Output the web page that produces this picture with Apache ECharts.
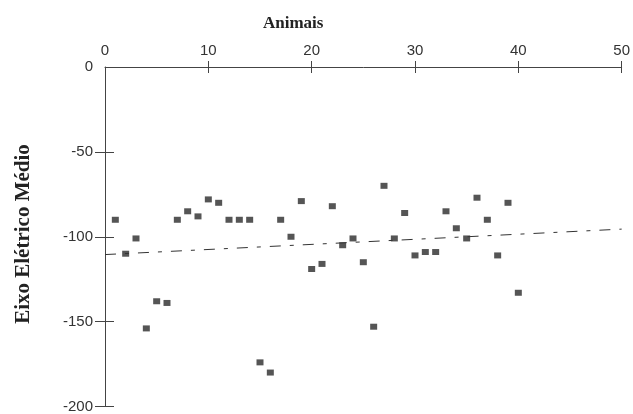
<!DOCTYPE html>
<html>
<head>
<meta charset="utf-8">
<script src="https://cdn.jsdelivr.net/npm/echarts@6/dist/echarts.min.js"></script>
<style>html,body{margin:0;padding:0;background:#fff;}#c{width:633px;height:414px;}</style>
</head>
<body>
<div id="c"></div>
<script>
const animals = [1,2,3,4,5,6,7,8,9,10,11,12,13,14,15,16,17,18,19,20,21,22,23,24,25,26,27,28,29,30,31,32,33,34,35,36,37,38,39,40];
const eixo = [-90,-110,-101,-154,-138,-139,-90,-85,-88,-78,-80,-90,-90,-90,-174,-180,-90,-100,-79,-119,-116,-82,-105,-101,-115,-153,-70,-101,-86,-111,-109,-109,-85,-95,-101,-77,-90,-111,-80,-133];
const trendX = [0, 50];
const trendY = [-110.5, -95.5];
const xTicks = [10, 20, 30, 40, 50];
const yTicks = [-50, -100, -150, -200];

const chart = echarts.init(document.getElementById('c'), null, {renderer: 'canvas'});
const labelFont = {fontFamily: 'Liberation Sans', fontSize: 15, color: '#333'};
const axisColor = '#444';

const xBase = {type: 'value', position: 'top', min: 0, max: 50, interval: 10, splitLine: {show: false}};
const yBase = {type: 'value', position: 'left', min: -200, max: 0, interval: 50, splitLine: {show: false}};

chart.setOption({
  animation: false,
  backgroundColor: '#fff',
  title: {
    text: 'Animais', left: 258, top: 10,
    textStyle: {fontFamily: 'Liberation Serif', fontWeight: 'bold', fontSize: 17, color: '#222'}
  },
  graphic: [{
    type: 'text', x: 24, y: 234, rotation: Math.PI / 2,
    style: {text: 'Eixo Elétrico Médio', font: 'bold 21px "Liberation Serif"', fill: '#222', textAlign: 'center', textVerticalAlign: 'middle'}
  }],
  grid: {left: 105, top: 67, right: 6, bottom: 2, containLabel: false},
  xAxis: [
    Object.assign({}, xBase, {
      axisLine: {show: true, lineStyle: {color: axisColor, width: 1}},
      axisTick: {show: true, inside: false, length: 6, customValues: xTicks, lineStyle: {color: axisColor}},
      axisLabel: Object.assign({show: true, margin: 9}, labelFont)
    }),
    Object.assign({}, xBase, {
      axisLine: {show: false},
      axisTick: {show: true, inside: true, length: 6, customValues: xTicks, lineStyle: {color: axisColor}},
      axisLabel: {show: false}
    })
  ],
  yAxis: [
    Object.assign({}, yBase, {
      axisLine: {show: true, lineStyle: {color: axisColor, width: 1}},
      axisTick: {show: true, inside: false, length: 10, customValues: yTicks, lineStyle: {color: axisColor}},
      axisLabel: Object.assign({show: true, margin: 12}, labelFont)
    }),
    Object.assign({}, yBase, {
      axisLine: {show: false},
      axisTick: {show: true, inside: true, length: 9, customValues: yTicks, lineStyle: {color: axisColor}},
      axisLabel: {show: false}
    })
  ],
  series: [
    {
      type: 'line', xAxisIndex: 0, yAxisIndex: 0,
      data: trendX.map((x, i) => [x, trendY[i]]),
      showSymbol: false, silent: true,
      lineStyle: {color: '#333', width: 1, type: [11, 9, 4, 9]}
    },
    {
      type: 'scatter', xAxisIndex: 0, yAxisIndex: 0,
      data: animals.map((x, i) => [x, eixo[i]]),
      symbol: 'rect', symbolSize: [7, 6],
      itemStyle: {color: '#2a2a2a'}
    }
  ]
});
</script>
</body>
</html>
